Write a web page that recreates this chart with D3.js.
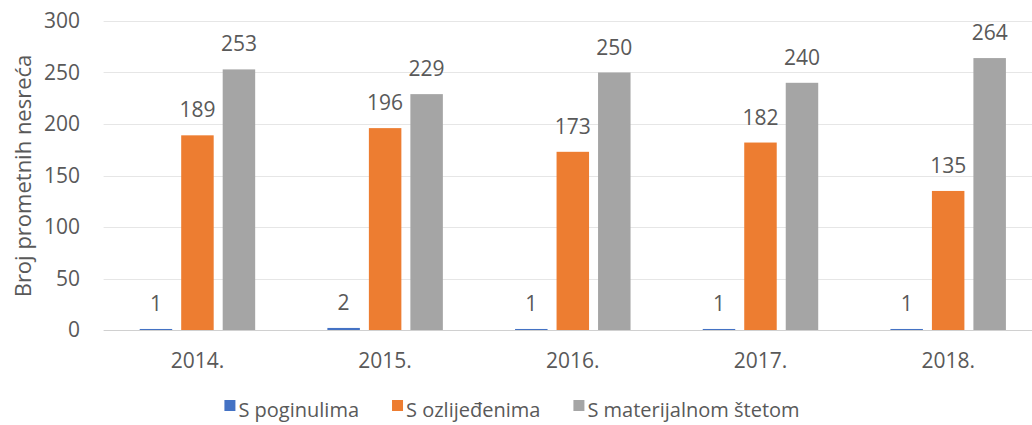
<!DOCTYPE html>
<html lang="hr">
	<head>
		<meta charset="utf-8">
		<title>prometne nesrece</title>
		<script type="text/javascript" src="https://cdn.jsdelivr.net/npm/d3@7"></script>
		<style type="text/css">
			body { margin: 0; background: #fff; }
			text { font-family: "Open Sans", "Noto Sans", sans-serif; fill: #595959; }
		</style>
	</head>
	<body>
		<script type="text/javascript">

var years = ["2014.", "2015.", "2016.", "2017.", "2018."]
var seriesNames = ["S poginulima", "S ozlijeđenima", "S materijalnom štetom"]
var poginuli = [1, 2, 1, 1, 1]
var ozlijedeni = [189, 196, 173, 182, 135]
var materijalna = [253, 229, 250, 240, 264]
var yTicks = [0, 50, 100, 150, 200, 250, 300]
var colors = ["#4472C4", "#ED7D31", "#A5A5A5"]

var values = [poginuli, ozlijedeni, materijalna]

var w = 1032
var h = 425
var plotLeft = 103.6
var plotRight = 1042
var plotTop = 21
var plotBottom = 330

var svg = d3.select("body")
			.append("svg")
			.attr("width", w)
			.attr("height", h)

var x0 = d3.scaleBand().domain(years).range([plotLeft, plotRight]).padding(0)
var x1 = d3.scaleBand().domain(seriesNames).range([0, x0.bandwidth()])
			.paddingInner(0.217).paddingOuter(0.87)
var y = d3.scaleLinear().domain([0, 300]).range([plotBottom, plotTop])

// gridlines
svg.selectAll(".grid")
   .data(yTicks.slice(1))
   .enter()
   .append("line")
   .attr("x1", plotLeft)
   .attr("x2", w)
   .attr("y1", function(d) { return Math.round(y(d)) + 0.5 })
   .attr("y2", function(d) { return Math.round(y(d)) + 0.5 })
   .attr("stroke", "#E6E6E6")
   .attr("stroke-width", 1)

// y tick labels
svg.selectAll(".ytick")
   .data(yTicks)
   .enter()
   .append("text")
   .attr("x", 80)
   .attr("y", function(d) { return y(d) })
   .attr("dy", "0.35em")
   .attr("text-anchor", "end")
   .attr("font-size", "21px")
   .text(function(d) { return d })

// axis title
svg.append("text")
   .attr("transform", "translate(31," + 176 + ") rotate(-90)")
   .attr("text-anchor", "middle")
   .attr("font-size", "22px")
   .text("Broj prometnih nesreća")

// bars
var groups = svg.selectAll(".year")
   .data(years)
   .enter()
   .append("g")
   .attr("transform", function(d) { return "translate(" + x0(d) + ",0)" })

seriesNames.forEach(function(s, si) {
	groups.append("rect")
		.attr("x", x1(s))
		.attr("width", x1.bandwidth())
		.attr("y", function(d, i) { return y(values[si][i]) })
		.attr("height", function(d, i) { return plotBottom - y(values[si][i]) })
		.attr("fill", colors[si])

	groups.append("text")
		.attr("x", x1(s) + x1.bandwidth() / 2)
		.attr("y", function(d, i) { return y(values[si][i]) - 18 })
		.attr("text-anchor", "middle")
		.attr("font-size", "21px")
		.text(function(d, i) { return values[si][i] })
})

// x axis line
svg.append("line")
   .attr("x1", plotLeft)
   .attr("x2", w)
   .attr("y1", plotBottom + 0.5)
   .attr("y2", plotBottom + 0.5)
   .attr("stroke", "#D0D0D0")
   .attr("stroke-width", 1.2)

// x labels
svg.selectAll(".xlab")
   .data(years)
   .enter()
   .append("text")
   .attr("x", function(d) { return x0(d) + x0.bandwidth() / 2 })
   .attr("y", 368)
   .attr("text-anchor", "middle")
   .attr("font-size", "21px")
   .text(function(d) { return d })

// legend
var legend = svg.append("g")
var lx = 0
seriesNames.forEach(function(s, si) {
	var item = legend.append("g").attr("transform", "translate(" + lx + ",0)")
	item.append("rect")
		.attr("x", 0)
		.attr("y", 400)
		.attr("width", 11)
		.attr("height", 11)
		.attr("fill", colors[si])
	var t = item.append("text")
		.attr("x", 14)
		.attr("y", 417)
		.attr("font-size", "20px")
		.text(s)
	lx += 14 + t.node().getComputedTextLength() + 33
})
var lw = lx - 33
legend.attr("transform", "translate(" + ((w - lw) / 2 - 4) + ",0)")

		</script>
	</body>
</html>
